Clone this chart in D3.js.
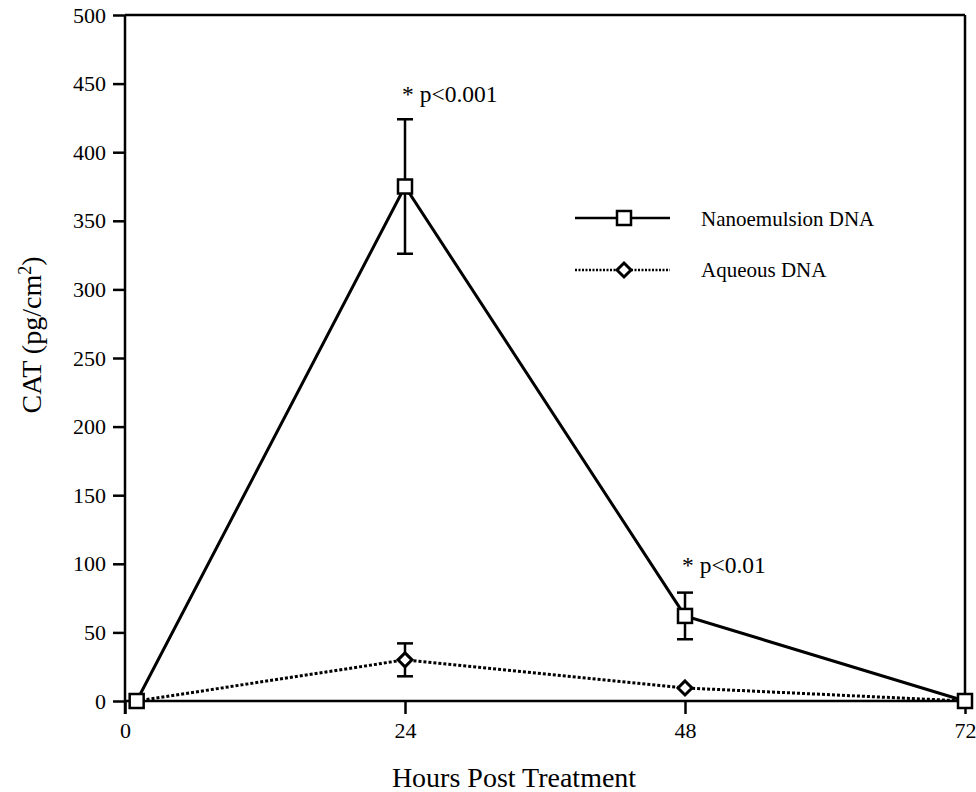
<!DOCTYPE html>
<html><head><meta charset="utf-8">
<script src="https://cdn.jsdelivr.net/npm/d3@7"></script>
<style>body{margin:0;background:#fff}svg{display:block}text{font-family:"Liberation Serif","Times New Roman",serif;fill:#000}</style>
</head><body><svg id="c" width="976" height="792"></svg>
<script>
const hours = [1, 24, 48, 72];
const nanoValues = [0, 375, 62, 0];
const nanoErr = [0, 49, 17, 0];
const aqueousValues = [0, 30, 9.5, 0];
const aqueousErr = [0, 12, 0, 0];
const xTicks = [0, 24, 48, 72];
const yTicks = [0, 50, 100, 150, 200, 250, 300, 350, 400, 450, 500];
const notes = [{h: 24, v: 436.5, t: "* p<0.001"}, {h: 48, v: 93, t: "* p<0.01"}];

const svg = d3.select("#c");
const x = d3.scaleLinear().domain([0, 72]).range([125, 965]);
const y = d3.scaleLinear().domain([0, 500]).range([701, 15]);

// frame top/right
svg.append("line").attr("x1", 125).attr("x2", 965).attr("y1", y(500)).attr("y2", y(500)).attr("stroke", "#000").attr("stroke-width", 2.5);
svg.append("line").attr("x1", 965).attr("x2", 965).attr("y1", y(500)).attr("y2", y(0)).attr("stroke", "#000").attr("stroke-width", 2.5);

const yAxis = svg.append("g").attr("transform", "translate(125,0)")
  .call(d3.axisLeft(y).tickValues(yTicks).tickSize(12).tickPadding(7));
const xAxis = svg.append("g").attr("transform", `translate(0,${y(0)})`)
  .call(d3.axisBottom(x).tickValues(xTicks).tickSize(13).tickPadding(8));
[yAxis, xAxis].forEach(g => {
  g.select(".domain").attr("stroke-width", 2.5);
  g.selectAll(".tick line").attr("stroke-width", 2.5);
  g.selectAll("text").style("font-size", "22px").style("font-family", '"Liberation Serif",serif');
});
yAxis.select(".domain").attr("d", `M0,${y(500)}V${y(0) + 13}`);
xAxis.select(".domain").attr("d", `M125,0H965`);

// lines
const line = d3.line().x((d, i) => x(hours[i])).y(d => y(d));
svg.append("path").datum(aqueousValues).attr("d", line).attr("fill", "none").attr("stroke", "#000").attr("stroke-width", 3).attr("stroke-dasharray", "3,2");
svg.append("path").datum(nanoValues).attr("d", line).attr("fill", "none").attr("stroke", "#000").attr("stroke-width", 3);

// error bars
function errBars(vals, errs) {
  vals.forEach((v, i) => {
    if (!errs[i]) return;
    const cx = x(hours[i]);
    const g = svg.append("g").attr("stroke", "#000").attr("stroke-width", 2.5);
    g.append("line").attr("x1", cx).attr("x2", cx).attr("y1", y(v + errs[i])).attr("y2", y(v - errs[i]));
    [v + errs[i], v - errs[i]].forEach(e => g.append("line").attr("x1", cx - 8).attr("x2", cx + 8).attr("y1", y(e)).attr("y2", y(e)));
  });
}
errBars(nanoValues, nanoErr);
errBars(aqueousValues, aqueousErr);

// markers
function diamond(g, cx, cy) {
  g.append("path").attr("d", `M${cx},${cy - 7}L${cx + 7},${cy}L${cx},${cy + 7}L${cx - 7},${cy}Z`).attr("fill", "#fff").attr("stroke", "#000").attr("stroke-width", 3);
}
function square(g, cx, cy) {
  g.append("rect").attr("x", cx - 7).attr("y", cy - 7).attr("width", 14).attr("height", 14).attr("fill", "#fff").attr("stroke", "#000").attr("stroke-width", 2.5);
}
aqueousValues.forEach((v, i) => { if (i > 0 && i < 3) diamond(svg, x(hours[i]), y(v)); });
nanoValues.forEach((v, i) => square(svg, x(hours[i]), y(v)));

// annotations
notes.forEach(n => svg.append("text").attr("x", x(n.h) - 3).attr("y", y(n.v)).style("font-size", "23.5px").text(n.t));

// legend
const lg = svg.append("g");
lg.append("line").attr("x1", 575).attr("x2", 670).attr("y1", 218).attr("y2", 218).attr("stroke", "#000").attr("stroke-width", 2.5);
square(lg, 624, 218);
lg.append("text").attr("x", 701).attr("y", 226).style("font-size", "21px").text("Nanoemulsion DNA");
lg.append("line").attr("x1", 575).attr("x2", 670).attr("y1", 270).attr("y2", 270).attr("stroke", "#000").attr("stroke-width", 2.5).attr("stroke-dasharray", "2,1.5");
diamond(lg, 624, 270);
lg.append("text").attr("x", 701).attr("y", 277).style("font-size", "21px").text("Aqueous DNA");

// axis titles
svg.append("text").attr("x", 514).attr("y", 787).attr("text-anchor", "middle").style("font-size", "28px").text("Hours Post Treatment");
const yt = svg.append("text").attr("transform", "translate(41,335) rotate(-90)").attr("text-anchor", "middle").style("font-size", "28px");
yt.append("tspan").text("CAT (pg/cm");
yt.append("tspan").attr("dy", -10).style("font-size", "18px").text("2");
yt.append("tspan").attr("dy", 10).text(")");
</script></body></html>
